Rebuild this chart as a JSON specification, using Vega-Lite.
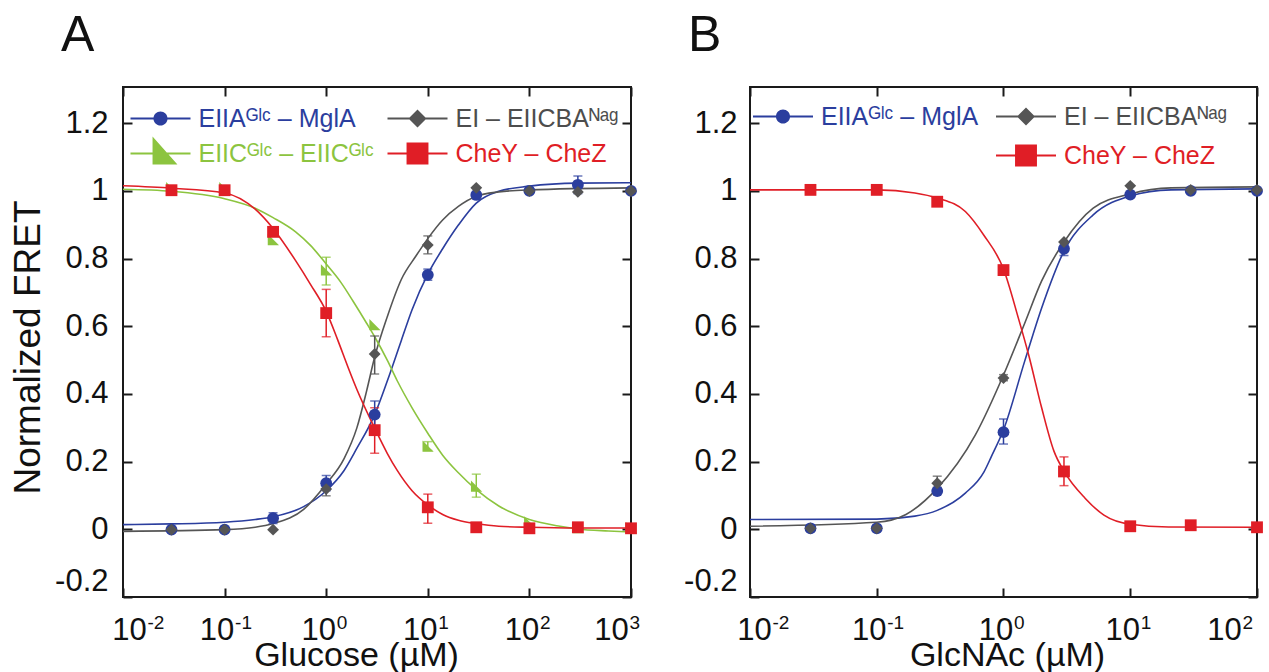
{
  "$schema": "https://vega.github.io/schema/vega-lite/v6.json",
  "background": "white",
  "padding": {"left": 8, "top": 10, "right": 5, "bottom": 0},
  "spacing": 41,
  "config": {
    "font": "Liberation Sans, DejaVu Sans, sans-serif",
    "view": {"stroke": "#1a1a1a", "strokeWidth": 2},
    "axis": {"domain": false, "grid": false, "tickColor": "#1a1a1a", "tickWidth": 2, "tickSize": -9, "labelOverlap": false,
      "labelFont": "Liberation Sans, DejaVu Sans, sans-serif", "labelFontSize": 31, "labelColor": "#111111",
      "titleFont": "Liberation Sans, DejaVu Sans, sans-serif", "titleFontSize": 34, "titleFontWeight": "normal", "titleColor": "#111111"},
    "title": {"font": "Liberation Sans, sans-serif", "fontSize": 50, "fontWeight": "normal", "anchor": "start", "frame": "group", "color": "#111111"},
    "legend": {"symbolOpacity": 1, "labelLimit": 400}
  },
  "datasets": {
    "curvesA": [
      {"s": "EIIA", "x": 0.01, "y": 0.014}, {"s": "EIIA", "x": 0.03, "y": 0.016}, {"s": "EIIA", "x": 0.1, "y": 0.021}, {"s": "EIIA", "x": 0.2, "y": 0.029}, {"s": "EIIA", "x": 0.3, "y": 0.037}, {"s": "EIIA", "x": 0.6, "y": 0.067}, {"s": "EIIA", "x": 1, "y": 0.114}, {"s": "EIIA", "x": 1.5, "y": 0.174}, {"s": "EIIA", "x": 2, "y": 0.239}, {"s": "EIIA", "x": 3, "y": 0.339}, {"s": "EIIA", "x": 4, "y": 0.439}, {"s": "EIIA", "x": 5.5, "y": 0.559}, {"s": "EIIA", "x": 7, "y": 0.649}, {"s": "EIIA", "x": 10, "y": 0.754}, {"s": "EIIA", "x": 14, "y": 0.829}, {"s": "EIIA", "x": 20, "y": 0.899}, {"s": "EIIA", "x": 30, "y": 0.964}, {"s": "EIIA", "x": 50, "y": 0.999}, {"s": "EIIA", "x": 100, "y": 1.014}, {"s": "EIIA", "x": 300, "y": 1.023}, {"s": "EIIA", "x": 1000, "y": 1.024},
      {"s": "EI", "x": 0.01, "y": -0.006}, {"s": "EI", "x": 0.1, "y": -0.001}, {"s": "EI", "x": 0.2, "y": 0.006}, {"s": "EI", "x": 0.3, "y": 0.017}, {"s": "EI", "x": 0.6, "y": 0.059}, {"s": "EI", "x": 1, "y": 0.134}, {"s": "EI", "x": 1.5, "y": 0.209}, {"s": "EI", "x": 2, "y": 0.299}, {"s": "EI", "x": 2.5, "y": 0.409}, {"s": "EI", "x": 3, "y": 0.509}, {"s": "EI", "x": 4, "y": 0.629}, {"s": "EI", "x": 5.5, "y": 0.739}, {"s": "EI", "x": 7.7, "y": 0.809}, {"s": "EI", "x": 10, "y": 0.859}, {"s": "EI", "x": 14, "y": 0.914}, {"s": "EI", "x": 20, "y": 0.954}, {"s": "EI", "x": 30, "y": 0.984}, {"s": "EI", "x": 50, "y": 0.997}, {"s": "EI", "x": 100, "y": 1.003}, {"s": "EI", "x": 1000, "y": 1.009},
      {"s": "EIIC", "x": 0.01, "y": 1.005}, {"s": "EIIC", "x": 0.03, "y": 0.999}, {"s": "EIIC", "x": 0.1, "y": 0.977}, {"s": "EIIC", "x": 0.2, "y": 0.949}, {"s": "EIIC", "x": 0.3, "y": 0.921}, {"s": "EIIC", "x": 0.5, "y": 0.879}, {"s": "EIIC", "x": 0.7, "y": 0.839}, {"s": "EIIC", "x": 1, "y": 0.784}, {"s": "EIIC", "x": 1.4, "y": 0.729}, {"s": "EIIC", "x": 1.84, "y": 0.674}, {"s": "EIIC", "x": 2.5, "y": 0.609}, {"s": "EIIC", "x": 3, "y": 0.569}, {"s": "EIIC", "x": 4, "y": 0.499}, {"s": "EIIC", "x": 5, "y": 0.439}, {"s": "EIIC", "x": 7, "y": 0.359}, {"s": "EIIC", "x": 10, "y": 0.284}, {"s": "EIIC", "x": 14, "y": 0.219}, {"s": "EIIC", "x": 20, "y": 0.167}, {"s": "EIIC", "x": 30, "y": 0.117}, {"s": "EIIC", "x": 50, "y": 0.069}, {"s": "EIIC", "x": 100, "y": 0.029}, {"s": "EIIC", "x": 200, "y": 0.009}, {"s": "EIIC", "x": 300, "y": 0.001}, {"s": "EIIC", "x": 600, "y": -0.005}, {"s": "EIIC", "x": 1000, "y": -0.008},
      {"s": "CheY", "x": 0.01, "y": 1.015}, {"s": "CheY", "x": 0.03, "y": 1.008}, {"s": "CheY", "x": 0.1, "y": 0.994}, {"s": "CheY", "x": 0.2, "y": 0.946}, {"s": "CheY", "x": 0.3, "y": 0.889}, {"s": "CheY", "x": 0.5, "y": 0.794}, {"s": "CheY", "x": 0.7, "y": 0.724}, {"s": "CheY", "x": 1, "y": 0.644}, {"s": "CheY", "x": 1.3, "y": 0.559}, {"s": "CheY", "x": 1.64, "y": 0.479}, {"s": "CheY", "x": 2, "y": 0.414}, {"s": "CheY", "x": 3, "y": 0.299}, {"s": "CheY", "x": 4, "y": 0.224}, {"s": "CheY", "x": 5, "y": 0.174}, {"s": "CheY", "x": 7, "y": 0.114}, {"s": "CheY", "x": 10, "y": 0.072}, {"s": "CheY", "x": 14, "y": 0.044}, {"s": "CheY", "x": 20, "y": 0.027}, {"s": "CheY", "x": 30, "y": 0.017}, {"s": "CheY", "x": 50, "y": 0.009}, {"s": "CheY", "x": 100, "y": 0.006}, {"s": "CheY", "x": 300, "y": 0.004}, {"s": "CheY", "x": 1000, "y": 0.004}
    ],
    "pointsA": [
      {"s": "EIIC", "x": 0.03, "y": 1.009}, {"s": "EIIC", "x": 0.1, "y": 1.009}, {"s": "EIIC", "x": 0.3, "y": 0.855}, {"s": "EIIC", "x": 1, "y": 0.766, "lo": 0.722, "hi": 0.804}, {"s": "EIIC", "x": 3, "y": 0.604}, {"s": "EIIC", "x": 10, "y": 0.245, "lo": 0.233, "hi": 0.259}, {"s": "EIIC", "x": 30, "y": 0.127, "lo": 0.095, "hi": 0.163}, {"s": "EIIC", "x": 100, "y": 0.021}, {"s": "EIIC", "x": 300, "y": 0.004}, {"s": "EIIC", "x": 1000, "y": 0.004},
      {"s": "CheY", "x": 0.03, "y": 1.002}, {"s": "CheY", "x": 0.1, "y": 1.002}, {"s": "CheY", "x": 0.3, "y": 0.879}, {"s": "CheY", "x": 1, "y": 0.639, "lo": 0.569, "hi": 0.709}, {"s": "CheY", "x": 3, "y": 0.293, "lo": 0.225, "hi": 0.359}, {"s": "CheY", "x": 10, "y": 0.065, "lo": 0.018, "hi": 0.104}, {"s": "CheY", "x": 30, "y": 0.006}, {"s": "CheY", "x": 100, "y": 0.003}, {"s": "CheY", "x": 300, "y": 0.006}, {"s": "CheY", "x": 1000, "y": 0.003},
      {"s": "EIIA", "x": 0.03, "y": -0.001}, {"s": "EIIA", "x": 0.1, "y": -0.001}, {"s": "EIIA", "x": 0.3, "y": 0.033, "lo": 0.017, "hi": 0.049}, {"s": "EIIA", "x": 1, "y": 0.136, "lo": 0.114, "hi": 0.159}, {"s": "EIIA", "x": 3, "y": 0.339, "lo": 0.299, "hi": 0.379}, {"s": "EIIA", "x": 10, "y": 0.752, "lo": 0.736, "hi": 0.769}, {"s": "EIIA", "x": 30, "y": 0.988}, {"s": "EIIA", "x": 100, "y": 1.0}, {"s": "EIIA", "x": 300, "y": 1.018, "lo": 0.992, "hi": 1.044}, {"s": "EIIA", "x": 1000, "y": 1.0},
      {"s": "EI", "x": 0.03, "y": -0.001}, {"s": "EI", "x": 0.1, "y": -0.001}, {"s": "EI", "x": 0.3, "y": -0.001}, {"s": "EI", "x": 1, "y": 0.119, "lo": 0.099, "hi": 0.139}, {"s": "EI", "x": 3, "y": 0.518, "lo": 0.459, "hi": 0.571}, {"s": "EI", "x": 10, "y": 0.84, "lo": 0.814, "hi": 0.867}, {"s": "EI", "x": 30, "y": 1.009}, {"s": "EI", "x": 100, "y": 1.0}, {"s": "EI", "x": 300, "y": 0.997}, {"s": "EI", "x": 1000, "y": 1.0}
    ],
    "curvesB": [
      {"s": "EIIA", "x": 0.01, "y": 0.029}, {"s": "EIIA", "x": 0.1, "y": 0.03}, {"s": "EIIA", "x": 0.2, "y": 0.039}, {"s": "EIIA", "x": 0.3, "y": 0.056}, {"s": "EIIA", "x": 0.5, "y": 0.107}, {"s": "EIIA", "x": 0.7, "y": 0.169}, {"s": "EIIA", "x": 0.8, "y": 0.214}, {"s": "EIIA", "x": 1, "y": 0.294}, {"s": "EIIA", "x": 1.47, "y": 0.497}, {"s": "EIIA", "x": 2, "y": 0.654}, {"s": "EIIA", "x": 3, "y": 0.822}, {"s": "EIIA", "x": 5.1, "y": 0.929}, {"s": "EIIA", "x": 10, "y": 0.985}, {"s": "EIIA", "x": 21, "y": 1.003}, {"s": "EIIA", "x": 100, "y": 1.006},
      {"s": "EI", "x": 0.01, "y": 0.009}, {"s": "EI", "x": 0.1, "y": 0.021}, {"s": "EI", "x": 0.17, "y": 0.044}, {"s": "EI", "x": 0.3, "y": 0.121}, {"s": "EI", "x": 0.6, "y": 0.279}, {"s": "EI", "x": 1, "y": 0.456}, {"s": "EI", "x": 1.47, "y": 0.609}, {"s": "EI", "x": 2, "y": 0.734}, {"s": "EI", "x": 3, "y": 0.849}, {"s": "EI", "x": 5.1, "y": 0.949}, {"s": "EI", "x": 10, "y": 0.991}, {"s": "EI", "x": 21, "y": 1.009}, {"s": "EI", "x": 100, "y": 1.012},
      {"s": "CheY", "x": 0.01, "y": 1.003}, {"s": "CheY", "x": 0.1, "y": 1.003}, {"s": "CheY", "x": 0.2, "y": 0.994}, {"s": "CheY", "x": 0.3, "y": 0.979}, {"s": "CheY", "x": 0.5, "y": 0.939}, {"s": "CheY", "x": 0.7, "y": 0.869}, {"s": "CheY", "x": 1, "y": 0.769}, {"s": "CheY", "x": 1.31, "y": 0.624}, {"s": "CheY", "x": 1.58, "y": 0.515}, {"s": "CheY", "x": 2, "y": 0.359}, {"s": "CheY", "x": 2.5, "y": 0.231}, {"s": "CheY", "x": 3, "y": 0.172}, {"s": "CheY", "x": 4.4, "y": 0.092}, {"s": "CheY", "x": 6.2, "y": 0.042}, {"s": "CheY", "x": 10, "y": 0.015}, {"s": "CheY", "x": 20, "y": 0.007}, {"s": "CheY", "x": 100, "y": 0.006}
    ],
    "pointsB": [
      {"s": "CheY", "x": 0.03, "y": 1.003}, {"s": "CheY", "x": 0.1, "y": 1.003}, {"s": "CheY", "x": 0.3, "y": 0.968}, {"s": "CheY", "x": 1, "y": 0.766}, {"s": "CheY", "x": 3, "y": 0.171, "lo": 0.129, "hi": 0.214}, {"s": "CheY", "x": 10, "y": 0.009}, {"s": "CheY", "x": 30, "y": 0.012}, {"s": "CheY", "x": 100, "y": 0.006},
      {"s": "EIIA", "x": 0.03, "y": 0.003}, {"s": "EIIA", "x": 0.1, "y": 0.003}, {"s": "EIIA", "x": 0.3, "y": 0.113}, {"s": "EIIA", "x": 1, "y": 0.287, "lo": 0.252, "hi": 0.326}, {"s": "EIIA", "x": 3, "y": 0.829, "lo": 0.809, "hi": 0.849}, {"s": "EIIA", "x": 10, "y": 0.989}, {"s": "EIIA", "x": 30, "y": 1.0}, {"s": "EIIA", "x": 100, "y": 1.0},
      {"s": "EI", "x": 0.03, "y": 0.003}, {"s": "EI", "x": 0.1, "y": 0.003}, {"s": "EI", "x": 0.3, "y": 0.136, "lo": 0.124, "hi": 0.157}, {"s": "EI", "x": 1, "y": 0.447, "lo": 0.439, "hi": 0.457}, {"s": "EI", "x": 3, "y": 0.849}, {"s": "EI", "x": 10, "y": 1.015}, {"s": "EI", "x": 30, "y": 1.003}, {"s": "EI", "x": 100, "y": 1.003}
    ]
  },
  "hconcat": [
    {
      "width": 508, "height": 510,
      "title": {"text": "A", "dx": -62, "offset": 25},
      "resolve": {"scale": {"color": "independent", "shape": "independent"}, "axis": {"x": "independent", "y": "independent"}},
      "layer": [
        {
          "data": {"name": "curvesA"},
          "mark": {"type": "line", "strokeWidth": 1.6, "interpolate": "monotone"},
          "encoding": {
            "x": {"field": "x", "type": "quantitative", "scale": {"type": "log", "domain": [0.01, 1000], "nice": false},
              "axis": {"orient": "bottom", "values": [0.01, 0.1, 1, 10, 100, 1000], "title": "Glucose (µM)", "labelExpr": "'10'",
                "labelFlush": false, "labelPadding": 51, "labelBaseline": "alphabetic",
                "labelOffset": {"expr": "datum.value < 0.05 ? 6 : datum.value > 500 ? -20 : -8"},
                "titleX": 233, "titleY": 68, "titleBaseline": "alphabetic"}},
            "y": {"field": "y", "type": "quantitative", "scale": {"domain": [-0.2, 1.307], "nice": false, "zero": false},
              "axis": {"orient": "left", "values": [-0.2, 0, 0.2, 0.4, 0.6, 0.8, 1, 1.2], "title": "Normalized FRET",
                "labelExpr": "replace(format(datum.value, '~g'), '−', '-')", "labelFlush": 3, "labelPadding": 24,
                "titleFontSize": 37, "titleX": -84, "titleY": 260, "titleBaseline": "alphabetic"}},
            "color": {"field": "s", "type": "nominal", "scale": {"domain": ["EIIA", "EIIC", "EI", "CheY"], "range": ["#2B3E9E", "#8CC43F", "#555555", "#E01E26"]}, "legend": null},
            "detail": {"field": "s"}
          }
        },
        {
          "data": {"name": "pointsA"},
          "transform": [{"filter": "isValid(datum.lo)"}],
          "mark": {"type": "errorbar", "ticks": true, "size": 9, "thickness": 1.5},
          "encoding": {
            "x": {"field": "x", "type": "quantitative", "scale": {"type": "log", "domain": [0.01, 1000], "nice": false}, "axis": null},
            "y": {"field": "lo", "type": "quantitative", "scale": {"domain": [-0.2, 1.307], "nice": false, "zero": false}, "axis": null},
            "y2": {"field": "hi"},
            "color": {"field": "s", "type": "nominal", "scale": {"domain": ["EIIA", "EIIC", "EI", "CheY"], "range": ["#2B3E9E", "#8CC43F", "#555555", "#E01E26"]}, "legend": null}
          }
        },
        {
          "data": {"name": "pointsA"},
          "mark": {"type": "point", "filled": true, "opacity": 1, "size": 140},
          "encoding": {
            "x": {"field": "x", "type": "quantitative", "scale": {"type": "log", "domain": [0.01, 1000], "nice": false}, "axis": null},
            "y": {"field": "y", "type": "quantitative", "scale": {"domain": [-0.2, 1.307], "nice": false, "zero": false}, "axis": null},
            "shape": {"field": "s", "type": "nominal", "scale": {"domain": ["EIIA", "EIIC", "EI", "CheY"], "range": ["circle", "M-0.9,-1L1,0.9L-0.9,0.9Z", "diamond", "square"]}, "legend": null},
            "color": {"field": "s", "type": "nominal", "scale": {"domain": ["EIIA", "EIIC", "EI", "CheY"], "range": ["#2B3E9E", "#8CC43F", "#555555", "#E01E26"]}, "legend": null}
          }
        },
        {
          "data": {"name": "curvesA"},
          "mark": {"type": "line", "opacity": 0},
          "encoding": {
            "x": {"field": "x", "type": "quantitative", "scale": {"type": "log", "domain": [0.01, 1000], "nice": false},
              "axis": {"orient": "top", "values": [0.01, 0.1, 1, 10, 100, 1000], "labels": false, "title": null}},
            "y": {"field": "y", "type": "quantitative", "scale": {"domain": [-0.2, 1.307], "nice": false, "zero": false},
              "axis": {"orient": "right", "values": [-0.2, 0, 0.2, 0.4, 0.6, 0.8, 1, 1.2], "labels": false, "title": null}},
            "detail": {"field": "s"}
          }
        },
        {
          "data": {"name": "pointsA"},
          "transform": [{"filter": "false"}],
          "mark": {"type": "point", "filled": true, "opacity": 1},
          "encoding": {
            "x": {"field": "x", "type": "quantitative", "scale": {"type": "log", "domain": [0.01, 1000], "nice": false},
              "axis": {"orient": "bottom", "values": [0.01, 0.1, 1, 10, 100, 1000], "title": null, "ticks": false,
                "labelExpr": "datum.value < 0.05 ? '-2' : datum.value < 0.5 ? '-1' : datum.value < 5 ? '0' : datum.value < 50 ? '1' : datum.value < 500 ? '2' : '3'",
                "labelFontSize": 19, "labelAlign": "left", "labelBaseline": "alphabetic", "labelPadding": 31, "labelFlush": false,
                "labelOffset": {"expr": "datum.value < 0.05 ? 24 : datum.value > 500 ? -2 : 10"}}},
            "y": {"field": "y", "type": "quantitative", "scale": {"domain": [-0.2, 1.307], "nice": false, "zero": false}, "axis": null},
            "color": {"field": "s", "type": "nominal", "scale": {"domain": ["EIIA", "EIIC", "EI", "CheY"], "range": ["#2B3E9E", "#8CC43F", "#555555", "#E01E26"]},
              "legend": {"orient": "none", "legendX": 6.5, "legendY": 15.5, "columns": 2, "title": null, "symbolSize": 900,
                "symbolOffset": 15, "labelOffset": 22, "labelFontSize": 25, "labelFont": "Liberation Sans, DejaVu Sans, sans-serif", "rowPadding": 2, "columnPadding": 10, "padding": 0,
                "labelExpr": "datum.value === 'EIIA' ? 'EIIAᴳˡᶜ – MglA' : datum.value === 'EI' ? 'EI – EIICBAᴺᵃᵍ' : datum.value === 'EIIC' ? 'EIICᴳˡᶜ – EIICᴳˡᶜ' : 'CheY – CheZ'",
                "labelColor": {"expr": "datum.value === 'EIIA' ? '#2B3E9E' : datum.value === 'EI' ? '#4D4D4D' : datum.value === 'EIIC' ? '#8CC43F' : '#E01E26'"}}},
            "shape": {"field": "s", "type": "nominal",
              "scale": {"domain": ["EIIA", "EIIC", "EI", "CheY"], "range": [
                "M-2,-0.07H2V0.07H-2ZM0.47,0A0.47,0.47 0 1 1 -0.47,0A0.47,0.47 0 1 1 0.47,0Z",
                "M-2,-0.07H2V0.07H-2ZM-0.53,-1.13L1.13,0.73L-0.53,0.73Z",
                "M-2,-0.07H2V0.07H-2ZM0,-0.6L0.6,0L0,0.6L-0.6,0Z",
                "M-2,-0.07H2V0.07H-2ZM-0.73,-0.73H0.73V0.73H-0.73Z"]},
              "legend": {"orient": "none", "legendX": 6.5, "legendY": 15.5, "columns": 2, "title": null, "symbolSize": 900,
                "symbolOffset": 15, "labelOffset": 22, "labelFontSize": 25, "labelFont": "Liberation Sans, DejaVu Sans, sans-serif", "rowPadding": 2, "columnPadding": 10, "padding": 0,
                "labelExpr": "datum.value === 'EIIA' ? 'EIIAᴳˡᶜ – MglA' : datum.value === 'EI' ? 'EI – EIICBAᴺᵃᵍ' : datum.value === 'EIIC' ? 'EIICᴳˡᶜ – EIICᴳˡᶜ' : 'CheY – CheZ'",
                "labelColor": {"expr": "datum.value === 'EIIA' ? '#2B3E9E' : datum.value === 'EI' ? '#4D4D4D' : datum.value === 'EIIC' ? '#8CC43F' : '#E01E26'"}}}
          }
        }
      ]
    },
    {
      "width": 507, "height": 510,
      "title": {"text": "B", "dx": -62, "offset": 25},
      "resolve": {"scale": {"color": "independent", "shape": "independent"}, "axis": {"x": "independent", "y": "independent"}},
      "layer": [
        {
          "data": {"name": "curvesB"},
          "mark": {"type": "line", "strokeWidth": 1.6, "interpolate": "monotone"},
          "encoding": {
            "x": {"field": "x", "type": "quantitative", "scale": {"type": "log", "domain": [0.01, 100], "nice": false},
              "axis": {"orient": "bottom", "values": [0.01, 0.1, 1, 10, 100], "title": "GlcNAc (µM)", "labelExpr": "'10'",
                "labelFlush": false, "labelPadding": 51, "labelBaseline": "alphabetic",
                "labelOffset": {"expr": "datum.value < 0.05 ? 4 : datum.value > 50 ? -33 : -8"},
                "titleX": 257, "titleY": 68, "titleBaseline": "alphabetic"}},
            "y": {"field": "y", "type": "quantitative", "scale": {"domain": [-0.2, 1.307], "nice": false, "zero": false},
              "axis": {"orient": "left", "values": [-0.2, 0, 0.2, 0.4, 0.6, 0.8, 1, 1.2], "title": null,
                "labelExpr": "replace(format(datum.value, '~g'), '−', '-')", "labelFlush": 3, "labelPadding": 22}},
            "color": {"field": "s", "type": "nominal", "scale": {"domain": ["EIIA", "blank", "EI", "CheY"], "range": ["#2B3E9E", "#FFFFFF", "#555555", "#E01E26"]}, "legend": null},
            "detail": {"field": "s"}
          }
        },
        {
          "data": {"name": "pointsB"},
          "transform": [{"filter": "isValid(datum.lo)"}],
          "mark": {"type": "errorbar", "ticks": true, "size": 9, "thickness": 1.5},
          "encoding": {
            "x": {"field": "x", "type": "quantitative", "scale": {"type": "log", "domain": [0.01, 100], "nice": false}, "axis": null},
            "y": {"field": "lo", "type": "quantitative", "scale": {"domain": [-0.2, 1.307], "nice": false, "zero": false}, "axis": null},
            "y2": {"field": "hi"},
            "color": {"field": "s", "type": "nominal", "scale": {"domain": ["EIIA", "blank", "EI", "CheY"], "range": ["#2B3E9E", "#FFFFFF", "#555555", "#E01E26"]}, "legend": null}
          }
        },
        {
          "data": {"name": "pointsB"},
          "mark": {"type": "point", "filled": true, "opacity": 1, "size": 140},
          "encoding": {
            "x": {"field": "x", "type": "quantitative", "scale": {"type": "log", "domain": [0.01, 100], "nice": false}, "axis": null},
            "y": {"field": "y", "type": "quantitative", "scale": {"domain": [-0.2, 1.307], "nice": false, "zero": false}, "axis": null},
            "shape": {"field": "s", "type": "nominal", "scale": {"domain": ["EIIA", "blank", "EI", "CheY"], "range": ["circle", "circle", "diamond", "square"]}, "legend": null},
            "color": {"field": "s", "type": "nominal", "scale": {"domain": ["EIIA", "blank", "EI", "CheY"], "range": ["#2B3E9E", "#FFFFFF", "#555555", "#E01E26"]}, "legend": null}
          }
        },
        {
          "data": {"name": "curvesB"},
          "mark": {"type": "line", "opacity": 0},
          "encoding": {
            "x": {"field": "x", "type": "quantitative", "scale": {"type": "log", "domain": [0.01, 100], "nice": false},
              "axis": {"orient": "top", "values": [0.01, 0.1, 1, 10, 100], "labels": false, "title": null}},
            "y": {"field": "y", "type": "quantitative", "scale": {"domain": [-0.2, 1.307], "nice": false, "zero": false},
              "axis": {"orient": "right", "values": [-0.2, 0, 0.2, 0.4, 0.6, 0.8, 1, 1.2], "labels": false, "title": null}},
            "detail": {"field": "s"}
          }
        },
        {
          "data": {"name": "pointsB"},
          "transform": [{"filter": "false"}],
          "mark": {"type": "point", "filled": true, "opacity": 1},
          "encoding": {
            "x": {"field": "x", "type": "quantitative", "scale": {"type": "log", "domain": [0.01, 100], "nice": false},
              "axis": {"orient": "bottom", "values": [0.01, 0.1, 1, 10, 100], "title": null, "ticks": false,
                "labelExpr": "datum.value < 0.05 ? '-2' : datum.value < 0.5 ? '-1' : datum.value < 5 ? '0' : datum.value < 50 ? '1' : '2'",
                "labelFontSize": 19, "labelAlign": "left", "labelBaseline": "alphabetic", "labelPadding": 31, "labelFlush": false,
                "labelOffset": {"expr": "datum.value < 0.05 ? 22 : datum.value > 50 ? -15 : 10"}}},
            "y": {"field": "y", "type": "quantitative", "scale": {"domain": [-0.2, 1.307], "nice": false, "zero": false}, "axis": null},
            "color": {"field": "s", "type": "nominal", "scale": {"domain": ["EIIA", "blank", "EI", "CheY"], "range": ["#2B3E9E", "#FFFFFF", "#555555", "#E01E26"]},
              "legend": {"orient": "none", "legendX": 2, "legendY": 13.5, "columns": 2, "title": null, "symbolSize": 900,
                "symbolOffset": 15, "labelOffset": 22, "labelFontSize": 25, "labelFont": "Liberation Sans, DejaVu Sans, sans-serif", "rowPadding": 10, "columnPadding": 14, "padding": 0,
                "labelExpr": "datum.value === 'EIIA' ? 'EIIAᴳˡᶜ – MglA' : datum.value === 'EI' ? 'EI – EIICBAᴺᵃᵍ' : datum.value === 'CheY' ? 'CheY – CheZ' : ''",
                "labelColor": {"expr": "datum.value === 'EIIA' ? '#2B3E9E' : datum.value === 'EI' ? '#4D4D4D' : '#E01E26'"}}},
            "shape": {"field": "s", "type": "nominal",
              "scale": {"domain": ["EIIA", "blank", "EI", "CheY"], "range": [
                "M-2,-0.07H2V0.07H-2ZM0.47,0A0.47,0.47 0 1 1 -0.47,0A0.47,0.47 0 1 1 0.47,0Z",
                "M-2,-0.07H2V0.07H-2Z",
                "M-2,-0.07H2V0.07H-2ZM0,-0.6L0.6,0L0,0.6L-0.6,0Z",
                "M-2,-0.07H2V0.07H-2ZM-0.73,-0.73H0.73V0.73H-0.73Z"]},
              "legend": {"orient": "none", "legendX": 2, "legendY": 13.5, "columns": 2, "title": null, "symbolSize": 900,
                "symbolOffset": 15, "labelOffset": 22, "labelFontSize": 25, "labelFont": "Liberation Sans, DejaVu Sans, sans-serif", "rowPadding": 10, "columnPadding": 14, "padding": 0,
                "labelExpr": "datum.value === 'EIIA' ? 'EIIAᴳˡᶜ – MglA' : datum.value === 'EI' ? 'EI – EIICBAᴺᵃᵍ' : datum.value === 'CheY' ? 'CheY – CheZ' : ''",
                "labelColor": {"expr": "datum.value === 'EIIA' ? '#2B3E9E' : datum.value === 'EI' ? '#4D4D4D' : '#E01E26'"}}}
          }
        }
      ]
    }
  ]
}
